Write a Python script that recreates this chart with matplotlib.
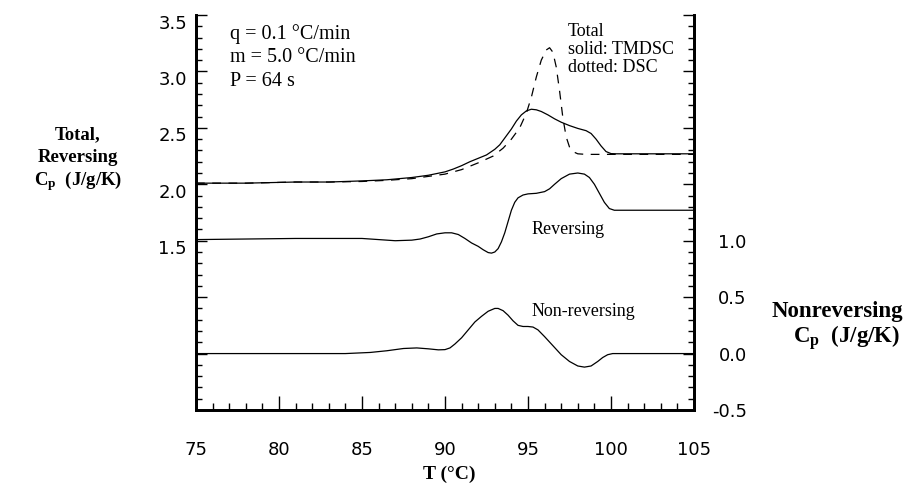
import numpy as np
import matplotlib
matplotlib.use("Agg")
import matplotlib.pyplot as plt
from matplotlib.ticker import FixedLocator, MultipleLocator, FuncFormatter
import matplotlib.transforms as mtransforms

plt.rcParams['font.family'] = 'DejaVu Sans'
plt.rcParams['mathtext.fontset'] = 'custom'
plt.rcParams['mathtext.rm'] = 'Liberation Serif'
plt.rcParams['mathtext.bf'] = 'Liberation Serif:bold'

# Total Cp, TMDSC (solid), left axis
total_T = [75, 78, 81, 83, 85, 86.5, 88, 89, 90, 90.5, 91, 91.5, 92, 92.5, 92.7,
           93, 93.3, 93.6, 94, 94.3, 94.6, 94.9, 95.2, 95.5, 95.8, 96.2, 96.6, 97,
           97.5, 98, 98.5, 98.8, 99.1, 99.4, 99.7, 100, 100.3, 101, 103, 105]
total_cp = [2.01, 2.01, 2.02, 2.02, 2.03, 2.04, 2.06, 2.08, 2.11, 2.135, 2.165, 2.20,
            2.23, 2.26, 2.28, 2.31, 2.35, 2.41, 2.49, 2.56, 2.615, 2.65, 2.665, 2.66,
            2.645, 2.615, 2.58, 2.55, 2.52, 2.495, 2.475, 2.45, 2.40, 2.34, 2.29,
            2.272, 2.27, 2.27, 2.27, 2.27]

# Total Cp, standard DSC (dashed), left axis
dsc_T = [75, 78, 81, 83, 85, 86.5, 88, 89, 90, 91, 92, 92.9, 93.5, 94, 94.5, 94.9,
         95.2, 95.5, 95.8, 96.1, 96.3, 96.5, 96.7, 96.9, 97.1, 97.3, 97.5, 97.7,
         98.0, 98.5, 100, 102, 105]
dsc_cp = [2.01, 2.01, 2.02, 2.02, 2.025, 2.035, 2.05, 2.07, 2.09, 2.13, 2.19, 2.25,
          2.32, 2.40, 2.50, 2.63, 2.77, 2.95, 3.10, 3.19, 3.21, 3.17, 3.04, 2.83,
          2.59, 2.42, 2.33, 2.29, 2.27, 2.265, 2.265, 2.265, 2.265]

# Reversing Cp, left axis
rev_T = [75, 78, 81, 83, 85, 86, 87, 88, 88.5, 89, 89.5, 90, 90.4, 90.8, 91.2, 91.6,
         92, 92.3, 92.6, 92.8, 93, 93.2, 93.4, 93.6, 93.8, 94, 94.2, 94.4, 94.7, 95,
         95.5, 96, 96.3, 96.6, 97, 97.5, 98, 98.4, 98.7, 99, 99.3, 99.6, 99.9, 100.2,
         101, 103, 105]
rev_cp = [1.51, 1.515, 1.52, 1.52, 1.52, 1.51, 1.50, 1.505, 1.515, 1.535, 1.56, 1.57,
          1.57, 1.555, 1.52, 1.48, 1.45, 1.42, 1.395, 1.39, 1.40, 1.43, 1.49, 1.57,
          1.67, 1.77, 1.84, 1.88, 1.905, 1.915, 1.92, 1.935, 1.96, 2.00, 2.05, 2.09,
          2.10, 2.09, 2.06, 2.00, 1.92, 1.84, 1.785, 1.77, 1.77, 1.77, 1.77]

# Nonreversing Cp, right axis
nrev_T = [75, 78, 81, 84, 85.5, 86.5, 87.5, 88.3, 89, 89.6, 90, 90.3, 90.6, 91, 91.4,
          91.8, 92.2, 92.6, 93, 93.2, 93.5, 93.8, 94.1, 94.4, 94.7, 95, 95.3, 95.6,
          96, 96.5, 97, 97.5, 98, 98.4, 98.8, 99.2, 99.5, 99.8, 100.1, 101, 103, 105]
nrev_cp = [0.0, 0.0, 0.0, 0.0, 0.01, 0.025, 0.045, 0.05, 0.042, 0.033, 0.035, 0.05,
           0.085, 0.14, 0.21, 0.28, 0.33, 0.375, 0.40, 0.40, 0.38, 0.34, 0.29, 0.25,
           0.24, 0.24, 0.235, 0.21, 0.15, 0.07, -0.01, -0.07, -0.11, -0.12, -0.11,
           -0.07, -0.035, -0.01, 0.0, 0.0, 0.0, 0.0]

left_ticks = [0.0, 0.5, 1.0, 1.5, 2.0, 2.5, 3.0, 3.5]
right_ticks = [-0.5, 0.0, 0.5, 1.0, 1.5, 2.0, 2.5, 3.0]
x_ticks = [75, 80, 85, 90, 95, 100, 105]

W, H = 904, 492
fig = plt.figure(figsize=(W / 100, H / 100), dpi=100)
ax = fig.add_axes([196 / W, 82 / H, (694 - 196) / W, (410 - 15) / H])
ax2 = ax.twinx()

lw = 0.9
ax.plot(total_T, total_cp, color='black', lw=lw)
ax.plot(dsc_T, dsc_cp, color='black', lw=lw, ls=(0, (7, 6)))
ax.plot(rev_T, rev_cp, color='black', lw=lw)
ax2.plot(nrev_T, nrev_cp, color='black', lw=lw)

ax.set_xlim(75, 105)
ax.set_ylim(0, 3.5)
ax2.set_ylim(-0.5, 3.0)

for a in (ax, ax2):
    a.spines['top'].set_visible(False)
    for s in ('left', 'right', 'bottom'):
        a.spines[s].set_linewidth(2)

ax.xaxis.set_major_locator(FixedLocator(x_ticks))
ax.xaxis.set_minor_locator(MultipleLocator(1))
ax.yaxis.set_major_locator(FixedLocator(left_ticks))
ax.yaxis.set_minor_locator(MultipleLocator(0.1))
ax.yaxis.set_major_formatter(FuncFormatter(lambda v, p: f"{v:.1f}" if v >= 1.49 else ""))
ax2.yaxis.set_major_locator(FixedLocator(right_ticks))
ax2.yaxis.set_minor_locator(MultipleLocator(0.1))
ax2.yaxis.set_major_formatter(FuncFormatter(lambda v, p: f"{v:.1f}" if v <= 1.01 else ""))

ax.tick_params(axis='x', which='both', direction='in', top=False, labelsize=13, pad=22)
ax.tick_params(axis='x', which='major', length=10, width=1)
ax.tick_params(axis='x', which='minor', length=5, width=1)
ax.tick_params(axis='y', which='both', direction='in', right=False, labelsize=13, pad=6.5)
ax.tick_params(axis='y', which='major', length=8, width=1)
ax.tick_params(axis='y', which='minor', length=4.5, width=1)
ax2.tick_params(axis='y', which='both', direction='in', left=False, labelsize=13, pad=38)
ax2.tick_params(axis='y', which='major', length=8, width=1)
ax2.tick_params(axis='y', which='minor', length=4.5, width=1)

# left labels sit a little below their ticks in the original
offset = mtransforms.ScaledTranslation(0, -6.5 / 100, fig.dpi_scale_trans)
for lab in ax.get_yticklabels():
    lab.set_transform(lab.get_transform() + offset)
for lab in ax2.get_yticklabels():
    lab.set_horizontalalignment('right')

serif = 'Liberation Serif'

def ftext(px, py, s, **kw):
    fig.text(px / W, 1 - py / H, s, family=serif, **kw)

ftext(230, 34, 'q = 0.1 °C/min', fontsize=14.5, va='center')
ftext(230, 58, 'm = 5.0 °C/min', fontsize=14.5, va='center')
ftext(230, 82, 'P = 64 s', fontsize=14.5, va='center')

ftext(568, 31, 'Total', fontsize=13, va='center')
ftext(568, 49, 'solid: TMDSC', fontsize=13, va='center')
ftext(568, 68, 'dotted: DSC', fontsize=13, va='center')

ftext(532, 229, 'Reversing', fontsize=13, va='center')
ftext(532, 312, 'Non-reversing', fontsize=13, va='center')

ftext(78, 135, 'Total,', fontsize=13.5, weight='bold', ha='center', va='center')
ftext(78, 158, 'Reversing', fontsize=13.5, weight='bold', ha='center', va='center')
ftext(78, 181, r'$\mathbf{C_p}$  (J/g/K)', fontsize=13.5, weight='bold', ha='center', va='center')

ftext(837, 312, 'Nonreversing', fontsize=16.5, weight='bold', ha='center', va='center')
ftext(847, 338, r'$\mathbf{C_p}$  (J/g/K)', fontsize=16.5, weight='bold', ha='center', va='center')

ftext(449, 474, 'T (°C)', fontsize=14, weight='bold', ha='center', va='center')

fig.savefig('out.png', dpi=100)
